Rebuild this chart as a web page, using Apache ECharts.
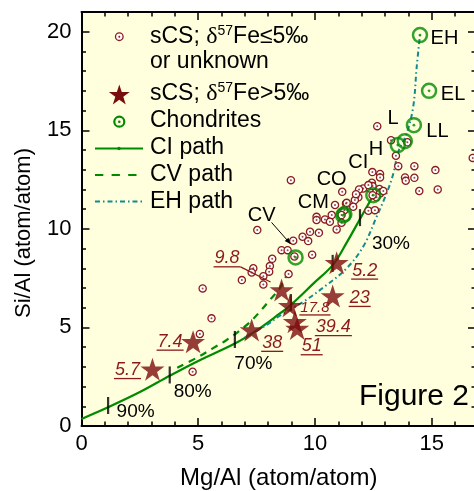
<!DOCTYPE html>
<html><head><meta charset="utf-8">
<script src="https://cdn.jsdelivr.net/npm/echarts@6/dist/echarts.min.js"></script>
<style>html,body{margin:0;padding:0;background:#fff}#c{width:474px;height:491px}</style>
</head><body><div id="c"></div>
<script>
// ---------------- DATA ----------------
const sCSMg = [12.67,13.26,13.96,13.47,13.57,14.26,15.16,12.46,12.79,12.79,13.86,13.89,14.26,12.44,12.07,12.36,12.47,12.76,12.79,12.93,12.64,14.47,15.26,11.86,11.71,11.64,11.33,12.29,12.57,16.76,12.29,11.89,11.76,8.97,11.17,10.86,11.36,11.26,11.14,10.72,10.07,10.07,10.43,10.64,11.14,10.93,7.53,9.79,10.17,9.47,9.71,9.07,8.57,8.83,9.88,8.17,8.07,8.04,7.36,7.29,7.79,7.79,6.87,5.19,5.57,5.07,4.76,8.87,9.12,12.47];
const sCSSi = [15.21,14.50,14.39,13.71,13.18,13.18,12.98,12.88,12.78,12.61,12.61,12.44,12.59,12.34,12.05,12.05,12.17,12.02,11.80,11.92,11.60,11.92,12.00,11.60,11.46,11.12,11.29,10.92,10.95,13.60,12.22,12.00,11.76,12.47,11.88,11.21,11.32,10.95,10.70,10.70,10.61,10.45,10.48,10.36,10.31,9.97,9.94,9.85,9.80,9.60,9.38,9.40,8.92,8.92,8.69,8.48,8.11,7.83,8.00,7.79,7.60,7.18,7.40,6.98,5.46,4.67,2.75,7.71,8.60,11.71];

const starMg = [3.04,4.78,7.29,8.57,8.93,9.14,9.24,10.93,10.76];
const starSi = [2.88,4.27,4.87,6.90,6.10,5.29,4.95,8.28,6.59];
const starLabels = ['5.7','7.4','38','9.8','17.8','39.4','51','5.2','23'];

const chondNames = ['EH','EL','LL','L','H','CI','CO','CM','CV'];
const chondMg = [14.50,14.89,14.24,13.85,13.55,12.50,11.26,11.21,9.17];
const chondSi = [19.83,17.00,15.26,14.45,14.25,11.71,10.74,10.68,8.55];

const ciMg = [0,1.14,2.5,3.78,5.0,6.57,7.5,8.5,8.95,9.93,10.79,11.36,11.93,12.5];
const ciSi = [0.36,0.95,1.72,2.55,3.3,4.18,4.85,5.71,6.12,7.22,8.2,9.3,10.5,11.7];
const cvMg = [4.1,5.0,5.64,6.2,6.71,7.2,7.64,8.0,8.5,8.9];
const cvSi = [2.95,3.5,3.95,4.35,4.78,5.25,5.8,6.3,7.0,7.95];
const ehMg = [7.0,7.93,8.5,9.5,10.5,11.36,12.07,12.64,13.07,13.36,13.57,13.93,14.21,14.36,14.5];
const ehSi = [4.5,5.12,5.6,6.3,7.15,8.0,9.1,10.61,11.8,12.81,13.91,14.84,16.19,18.22,19.83];

const pctMg = [1.14,3.78,6.57,8.97,10.76,11.93];
const pctSi = [1.04,2.59,4.39,6.26,8.25,10.57];
const pctLabels = ['90%','80%','70%','','','30%'];

const xTickVals = [0,5,10,15];
const xTickLabels = ['0','5','10','15'];
const yTickVals = [0,5,10,15,20];
const yTickLabels = ['0','5','10','15','20'];

// ---------------- STYLES ----------------
const FONT = '"Liberation Sans", Arial, Helvetica, sans-serif';
const SERIF = '"Liberation Serif", "Times New Roman", serif';
const RED = '#8c1c1c';
const STAR = '#7b0c0c';
const RTXT = '#8b1a1a';
const GREEN = '#008a00';
const TEAL = '#138a90';
const BG = '#ffffdd';
const STAR_PATH = 'path://M100,0 L122.45,69.1 L195.1,69.1 L136.33,111.8 L158.8,180.9 L100,138.2 L41.2,180.9 L63.67,111.8 L4.9,69.1 L77.55,69.1 Z';

const STAR_LBL = [
  {dx:-25, dy:1, fs:18},
  {dx:-23, dy:0, fs:18},
  {dx:20.5, dy:13, fs:18},
  {dx:-54.5, dy:-31.5, fs:18, leader:[-11,-8]},
  {dx:25, dy:2, fs:15},
  {dx:38.5, dy:5.5, fs:18},
  {dx:14.5, dy:18, fs:18},
  {dx:28, dy:8, fs:18},
  {dx:27, dy:2, fs:18}
];
const CH_LBL = [
  {dx:24.5,dy:3},{dx:24,dy:3.3},{dx:23.5,dy:6.7},{dx:-11.8,dy:-23},{dx:-21.8,dy:4.3},
  {dx:-15,dy:-32.3},{dx:-12.7,dy:-35.2},{dx:-29.9,dy:-13.1},{dx:-33.9,dy:-42.4, arrow:[-24,-35,-5,-13.5]}
];
const PCT_OFF = [[27.5,6.5],[23,17],[18.5,24],[0,0],[0,0],[31,26.5]];

const mctx = document.createElement('canvas').getContext('2d');
function tw(t, font){ mctx.font = font; return mctx.measureText(t).width; }

function starPts(cx, cy, R){
  const pts=[];
  for(let k=0;k<10;k++){
    const r = k%2===0 ? R : R*0.382;
    const a = -Math.PI/2 + k*Math.PI/5;
    pts.push([cx + r*Math.cos(a), cy + r*Math.sin(a)]);
  }
  return pts;
}

function fmt(vals, labels){ return v => { const i = vals.indexOf(Math.round(v*1000)/1000); return i>=0 ? labels[i] : ''; }; }

const XMAX = 16.9, YMAX = 21;
function xAx(gi, pos, interval, len, showLabel, showLine, name){
  const o = {type:'value', gridIndex:gi, position:pos, min:0, max:XMAX, interval:interval,
    axisLine:{show:showLine, onZero:false, lineStyle:{color:'#000', width:2}},
    axisTick:{show:true, inside:true, length:len, lineStyle:{color:'#000', width:1.5}},
    axisLabel:{show:showLabel, margin:7, fontSize:22, color:'#000', fontFamily:FONT, formatter:fmt(xTickVals,xTickLabels), showMaxLabel:false},
    splitLine:{show:false}, minorTick:{show:false}};
  if(name){ o.name=name; o.nameLocation='middle'; o.nameGap=40; o.nameTextStyle={fontSize:24, color:'#000', fontFamily:FONT}; }
  return o;
}
function yAx(gi, pos, interval, len, showLabel, showLine){
  return {type:'value', gridIndex:gi, position:pos, min:0, max:YMAX, interval:interval,
    axisLine:{show:showLine, onZero:false, lineStyle:{color:'#000', width:2}},
    axisTick:{show:true, inside:true, length:len, lineStyle:{color:'#000', width:1.5}},
    axisLabel:{show:showLabel, margin:10, fontSize:22, color:'#000', fontFamily:FONT, formatter:fmt(yTickVals,yTickLabels), showMaxLabel:false},
    splitLine:{show:false}};
}

const GRID = {left:81.5, right:-2, top:12, bottom:65, outerBoundsMode:'none', containLabel:false};
const xy = (a,b) => a.map((v,i)=>[v,b[i]]);

const option = {
  animation:false,
  backgroundColor:'#fff',
  grid:[Object.assign({show:true, backgroundColor:BG, borderWidth:0}, GRID), Object.assign({show:false}, GRID)],
  xAxis:[xAx(0,'bottom',5,8,true,true,'Mg/Al (atom/atom)'), xAx(0,'top',5,8,false,true),
         xAx(1,'bottom',1,4.5,false,false), xAx(1,'top',1,4.5,false,false)],
  yAxis:[yAx(0,'left',5,8,true,true), yAx(0,'right',5,8,false,true),
         yAx(1,'left',1,4.5,false,false), yAx(1,'right',1,4.5,false,false)],
  series:[
    {type:'line', name:'CI path', data:xy(ciMg,ciSi), smooth:0.35, showSymbol:false, z:2,
      lineStyle:{color:GREEN, width:2.2}},
    {type:'line', name:'CV path', data:xy(cvMg,cvSi), smooth:0.35, showSymbol:false, z:2,
      lineStyle:{color:GREEN, width:2.2, type:[7,6]}},
    {type:'line', name:'EH path', data:xy(ehMg,ehSi), smooth:0.35, showSymbol:false, z:2,
      lineStyle:{color:TEAL, width:2, type:[5,3,1.5,3]}},
    {type:'scatter', name:'pct', data:pctMg.map((m,i)=>({value:[m,pctSi[i]], label:{offset:PCT_OFF[i]}})),
      symbol:'rect', symbolSize:[2.2,17], itemStyle:{color:'#000'}, z:4,
      label:{show:true, position:'inside', formatter:p=>pctLabels[p.dataIndex], fontSize:19, color:'#000', fontFamily:FONT, textBorderWidth:0, opacity:1}},
    {type:'scatter', name:'sCS; δ57Fe≤5‰ or unknown', data:xy(sCSMg,sCSSi), symbol:'circle', symbolSize:7.2, z:5,
      itemStyle:{color:'#fff', borderColor:RED, borderWidth:1.3, opacity:1}},
    {type:'scatter', name:'sCS dots', data:xy(sCSMg,sCSSi), symbol:'circle', symbolSize:2, z:5,
      itemStyle:{color:RED}},
    {type:'scatter', name:'Chondrites', data:xy(chondMg,chondSi), symbol:'circle', symbolSize:14, z:5,
      itemStyle:{color:'rgba(0,0,0,0)', borderColor:GREEN, borderWidth:2.5}},
    {type:'scatter', name:'Chondrite dots', data:xy(chondMg,chondSi), symbol:'circle', symbolSize:2.8, z:5,
      itemStyle:{color:GREEN}},
    {type:'scatter', name:'sCS; δ57Fe>5‰', data:xy(starMg,starSi), symbol:STAR_PATH, symbolSize:[24,23], z:6,
      itemStyle:{color:STAR}},
    {type:'custom', name:'star labels', data:starMg.map((m,i)=>[m,starSi[i],i]), z:7, silent:true,
      renderItem:function(params, api){
        const i = api.value(2);
        const p = api.coord([api.value(0), api.value(1)]);
        const st = STAR_LBL[i];
        const font = 'italic ' + st.fs + 'px ' + FONT;
        const w = tw(starLabels[i], font);
        const cx = p[0]+st.dx, cy = p[1]+st.dy;
        const uy = cy + st.fs*0.38 + 1.5;
        const ch = [
          {type:'text', style:{text:starLabels[i], x:cx, y:cy, fill:RTXT, font:font, align:'center', verticalAlign:'middle'}},
          {type:'line', shape:{x1:cx-w/2-1, y1:uy, x2:cx+w/2+1, y2:uy}, style:{stroke:RTXT, lineWidth:1.3}}
        ];
        if(st.leader){ ch.push({type:'line', shape:{x1:cx+w/2+1, y1:uy, x2:p[0]+st.leader[0], y2:p[1]+st.leader[1]}, style:{stroke:RTXT, lineWidth:1.3}}); }
        return {type:'group', children:ch};
      }},
    {type:'custom', name:'chondrite labels', data:chondMg.map((m,i)=>[m,chondSi[i],i]), z:7, silent:true,
      renderItem:function(params, api){
        const i = api.value(2);
        const p = api.coord([api.value(0), api.value(1)]);
        const st = CH_LBL[i];
        const ch = [{type:'text', style:{text:chondNames[i], x:p[0]+st.dx, y:p[1]+st.dy, fill:'#000', font:'20px '+FONT, align:'center', verticalAlign:'middle'}}];
        if(st.arrow){
          const a = st.arrow;
          const x1=p[0]+a[0], y1=p[1]+a[1], x2=p[0]+a[2], y2=p[1]+a[3];
          const ang = Math.atan2(y2-y1, x2-x1), L=6, W=2.5;
          ch.push({type:'line', shape:{x1:x1,y1:y1,x2:x2,y2:y2}, style:{stroke:'#000', lineWidth:1}});
          ch.push({type:'polygon', shape:{points:[[x2,y2],[x2-L*Math.cos(ang)+W*Math.sin(ang), y2-L*Math.sin(ang)-W*Math.cos(ang)],[x2-L*Math.cos(ang)-W*Math.sin(ang), y2-L*Math.sin(ang)+W*Math.cos(ang)]]}, style:{fill:'#000'}});
        }
        return {type:'group', children:ch};
      }}
  ],
  graphic:[
    {type:'circle', shape:{cx:119.3, cy:36.7, r:3.8}, style:{fill:'#fff', stroke:RED, lineWidth:1.3}, z:10},
    {type:'circle', shape:{cx:119.3, cy:36.7, r:1}, style:{fill:RED}, z:10},
    {type:'text', x:150, y:36.5, z:10, style:{text:'{a|sCS; }{d|δ}{s|57}{a|Fe≤5‰}', verticalAlign:'middle', fill:'#000',
      rich:{a:{fontSize:23, fontFamily:FONT, fill:'#000'}, d:{fontSize:24, fontFamily:SERIF, fill:'#000'}, s:{fontSize:14, fontFamily:FONT, fill:'#000', verticalAlign:'top'}}}},
    {type:'text', x:150, y:62, z:10, style:{text:'or unknown', font:'23px '+FONT, fill:'#000', verticalAlign:'middle'}},
    {type:'polygon', shape:{points:starPts(119.3, 95.5, 11)}, style:{fill:STAR}, z:10},
    {type:'text', x:150, y:93.5, z:10, style:{text:'{a|sCS; }{d|δ}{s|57}{a|Fe>5‰}', verticalAlign:'middle', fill:'#000',
      rich:{a:{fontSize:23, fontFamily:FONT, fill:'#000'}, d:{fontSize:24, fontFamily:SERIF, fill:'#000'}, s:{fontSize:14, fontFamily:FONT, fill:'#000', verticalAlign:'top'}}}},
    {type:'circle', shape:{cx:119.3, cy:121.7, r:5}, style:{fill:'rgba(0,0,0,0)', stroke:GREEN, lineWidth:2.2}, z:10},
    {type:'circle', shape:{cx:119.3, cy:121.7, r:1.3}, style:{fill:GREEN}, z:10},
    {type:'text', x:150, y:121, z:10, style:{text:'Chondrites', font:'23px '+FONT, fill:'#000', verticalAlign:'middle'}},
    {type:'line', shape:{x1:95, y1:148.5, x2:143, y2:148.5}, style:{stroke:GREEN, lineWidth:2.2}, z:10},
    {type:'circle', shape:{cx:119, cy:148.5, r:1.7}, style:{fill:GREEN}, z:10},
    {type:'text', x:150, y:148, z:10, style:{text:'CI path', font:'23px '+FONT, fill:'#000', verticalAlign:'middle'}},
    {type:'line', shape:{x1:95, y1:175, x2:137, y2:175}, style:{stroke:GREEN, lineWidth:2.2, lineDash:[8.3,8.3]}, z:10},
    {type:'text', x:150, y:175, z:10, style:{text:'CV path', font:'23px '+FONT, fill:'#000', verticalAlign:'middle'}},
    {type:'line', shape:{x1:95, y1:201.5, x2:143, y2:201.5}, style:{stroke:TEAL, lineWidth:2, lineDash:[5,3,1.5,3]}, z:10},
    {type:'text', x:150, y:201.5, z:10, style:{text:'EH path', font:'23px '+FONT, fill:'#000', verticalAlign:'middle'}},
    {type:'text', x:24, y:233, rotation:Math.PI/2, z:10, style:{text:'Si/Al (atom/atom)', font:'22px '+FONT, fill:'#000', align:'center', verticalAlign:'middle'}},
    {type:'text', x:414, y:397, z:10, style:{text:'Figure 2', font:'30px '+FONT, fill:'#000', align:'center', verticalAlign:'middle'}}
  ]
};
const chart = echarts.init(document.getElementById('c'), null, {renderer:'canvas'});
chart.setOption(option);
</script></body></html>
